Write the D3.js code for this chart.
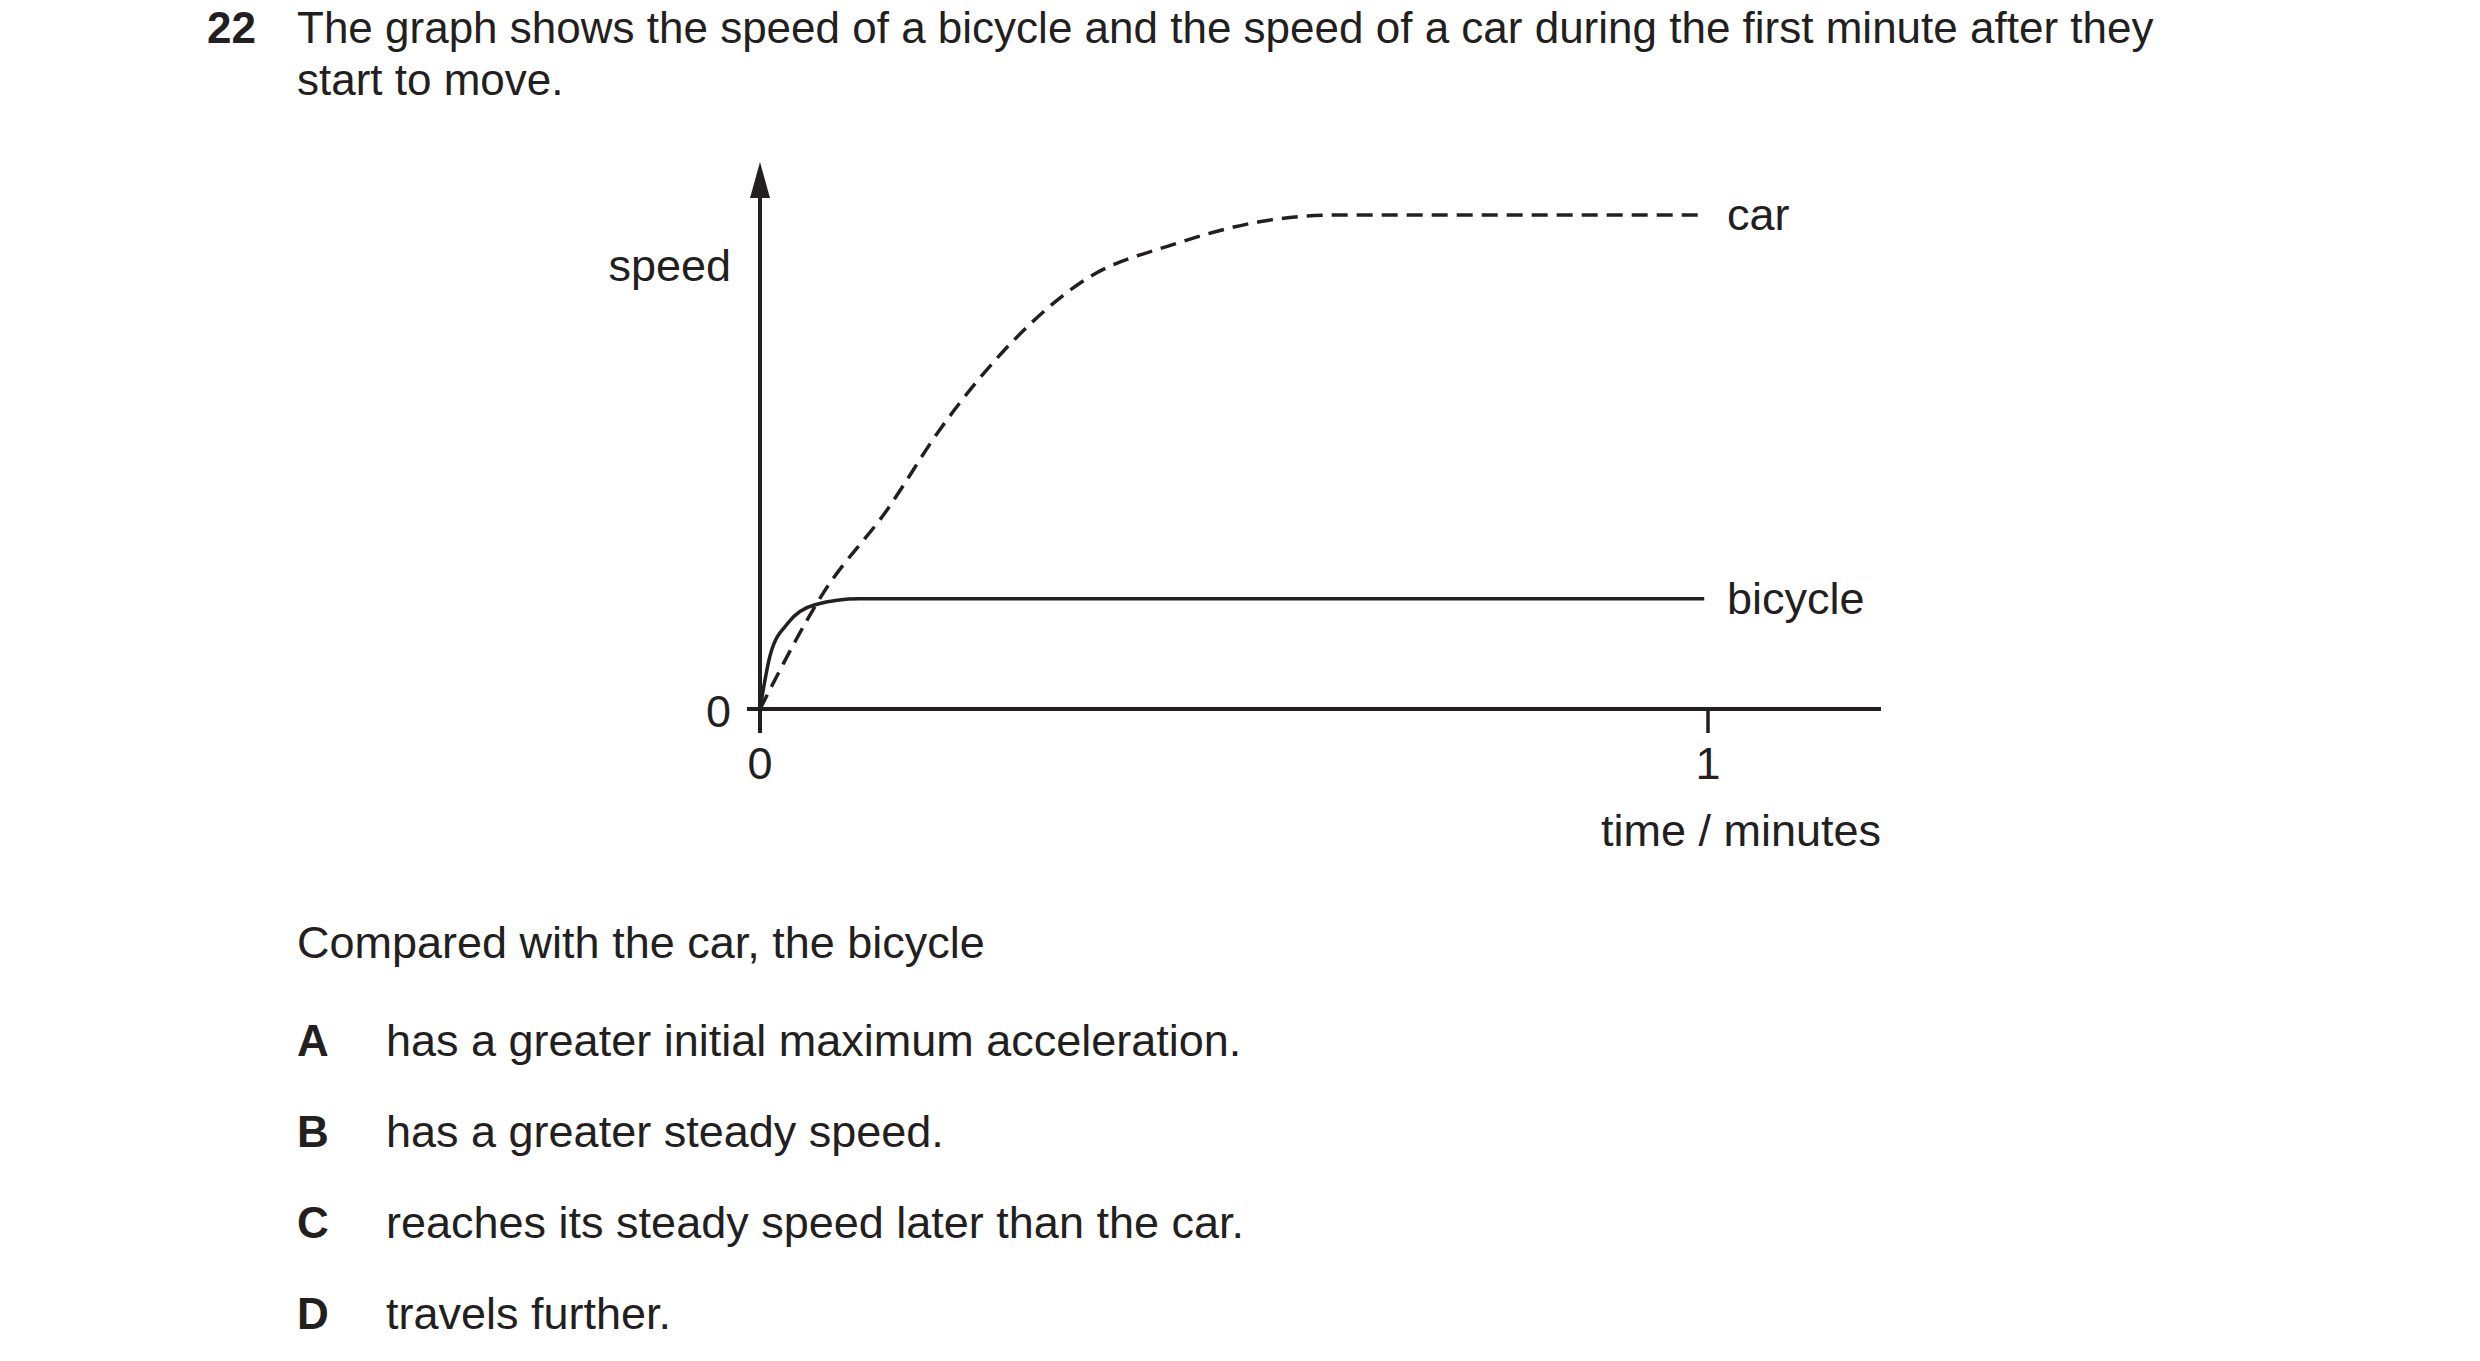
<!DOCTYPE html>
<html><head><meta charset="utf-8">
<script src="https://cdn.jsdelivr.net/npm/d3@7"></script>
<style>body{margin:0;background:#fff}svg{display:block}</style>
</head><body>
<script>
// speed as fraction of car's steady speed, time in minutes
const carT = [0, 0.0675, 0.134, 0.191, 0.267, 0.342, 0.437, 0.532, 0.608, 0.994];
const carV = [0, 0.237, 0.403, 0.569, 0.745, 0.868, 0.941, 0.988, 1.0, 1.0];
const bikeT = [0, 0.011, 0.0295, 0.058, 0.105, 0.996];
const bikeV = [0, 0.111, 0.174, 0.211, 0.223, 0.223];
const xTicks = [0, 1];
const options = [
  ['A', 'has a greater initial maximum acceleration.'],
  ['B', 'has a greater steady speed.'],
  ['C', 'reaches its steady speed later than the car.'],
  ['D', 'travels further.']
];

const W = 2480, H = 1361;
const font = '"Liberation Sans", Arial, sans-serif';
const svg = d3.select('body').append('svg').attr('width', W).attr('height', H)
  .style('font-family', font).style('fill', '#231f20');

const x = d3.scaleLinear().domain([0, 1]).range([760, 1708]);
const y = d3.scaleLinear().domain([0, 1]).range([709, 215]);

// Question text
svg.append('text').attr('x', 207).attr('y', 43).attr('font-size', 44).attr('font-weight', 'bold').text('22');
svg.append('text').attr('x', 297).attr('y', 43).attr('font-size', 44)
  .text('The graph shows the speed of a bicycle and the speed of a car during the first minute after they');
svg.append('text').attr('x', 297).attr('y', 95).attr('font-size', 44).text('start to move.');

// Axes
const ink = '#231f20';
svg.append('line').attr('x1', 747).attr('x2', 1881).attr('y1', y(0)).attr('y2', y(0))
  .attr('stroke', ink).attr('stroke-width', 4);
svg.append('line').attr('x1', x(0)).attr('x2', x(0)).attr('y1', 733).attr('y2', 190)
  .attr('stroke', ink).attr('stroke-width', 4);
svg.append('path').attr('d', `M${x(0)},162 L${x(0) - 10},198 L${x(0) + 10},198 Z`).attr('fill', ink);
xTicks.forEach(t => {
  svg.append('line').attr('x1', x(t)).attr('x2', x(t)).attr('y1', y(0)).attr('y2', 733)
    .attr('stroke', ink).attr('stroke-width', 3.5);
  svg.append('text').attr('x', x(t)).attr('y', 779).attr('text-anchor', 'middle')
    .attr('font-size', 45).text(t);
});
svg.append('text').attr('x', 731).attr('y', 727).attr('text-anchor', 'end').attr('font-size', 45).text('0');
svg.append('text').attr('x', 731).attr('y', 281).attr('text-anchor', 'end').attr('font-size', 45).text('speed');
svg.append('text').attr('x', 1881).attr('y', 846).attr('text-anchor', 'end').attr('font-size', 45).text('time / minutes');

// Curves
const line = d3.line().x(d => x(d[0])).y(d => y(d[1])).curve(d3.curveMonotoneX);
svg.append('path').attr('d', line(carT.map((t, i) => [t, carV[i]])))
  .attr('fill', 'none').attr('stroke', ink).attr('stroke-width', 3.5).attr('stroke-dasharray', '16,9');
svg.append('path').attr('d', line(bikeT.map((t, i) => [t, bikeV[i]])))
  .attr('fill', 'none').attr('stroke', ink).attr('stroke-width', 3.5);
svg.append('text').attr('x', 1727).attr('y', y(1) + 15).attr('font-size', 45).text('car');
svg.append('text').attr('x', 1727).attr('y', y(bikeV[bikeV.length - 1]) + 15).attr('font-size', 45).text('bicycle');

// Answer options
svg.append('text').attr('x', 297).attr('y', 958).attr('font-size', 45).text('Compared with the car, the bicycle');
options.forEach(([k, s], i) => {
  const yy = 1056 + i * 91;
  svg.append('text').attr('x', 297).attr('y', yy).attr('font-size', 44).attr('font-weight', 'bold').text(k);
  svg.append('text').attr('x', 386).attr('y', yy).attr('font-size', 45).text(s);
});
</script>
</body></html>
